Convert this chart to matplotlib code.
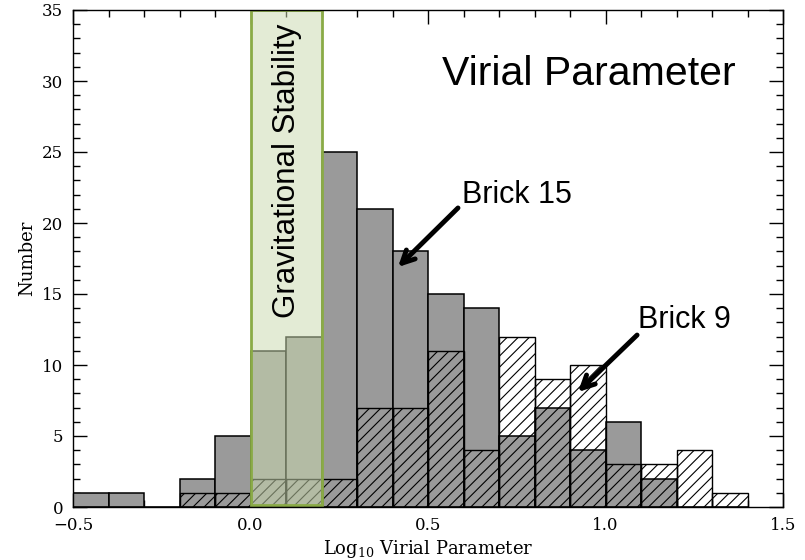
import matplotlib
matplotlib.use("Agg")
import matplotlib.pyplot as plt
from matplotlib.patches import Rectangle
from matplotlib.ticker import MultipleLocator

# Bin left edges (width 0.1)
bin_left = [-0.5, -0.4, -0.3, -0.2, -0.1, 0.0, 0.1, 0.2, 0.3, 0.4,
            0.5, 0.6, 0.7, 0.8, 0.9, 1.0, 1.1, 1.2, 1.3]
bin_width = 0.1
brick15 = [1, 1, 0, 2, 5, 11, 12, 25, 21, 18, 15, 14, 5, 7, 4, 6, 2, 0, 0]
brick9 = [0, 0, 0, 1, 1, 2, 2, 2, 7, 7, 11, 4, 12, 9, 10, 3, 3, 4, 1]
stability_range = (0.0, 0.2)

xticks = [-0.5, 0.0, 0.5, 1.0, 1.5]
yticks = [0, 5, 10, 15, 20, 25, 30, 35]

plt.rcParams['hatch.linewidth'] = 0.8
fig = plt.figure(figsize=(8.05, 5.6), dpi=100)
ax = fig.add_axes([73/805, 1-507/560, (783-73)/805, (507-10)/560])

ax.bar(bin_left, brick15, width=bin_width, align='edge',
       color='#9a9a9a', edgecolor='black', linewidth=1.1, zorder=2)
ax.bar(bin_left, brick9, width=bin_width, align='edge',
       fill=False, hatch='///', edgecolor='black', linewidth=1.0, zorder=3)

rect = Rectangle((stability_range[0], 0.15), stability_range[1]-stability_range[0], 34.85,
                 facecolor=(203/255, 218/255, 175/255, 0.52),
                 edgecolor='#8aab46', linewidth=2.0, zorder=4)
ax.add_patch(rect)

serif = 'DejaVu Serif'
ax.set_xlim(-0.5, 1.5)
ax.set_ylim(0, 35)
ax.set_xticks(xticks)
ax.set_yticks(yticks)
ax.xaxis.set_minor_locator(MultipleLocator(0.1))
ax.yaxis.set_minor_locator(MultipleLocator(1))
ax.tick_params(which='both', direction='in', top=True, right=True)
ax.tick_params(which='major', length=10, width=1)
ax.tick_params(which='minor', length=5, width=1)
ax.set_xticklabels(['\u22120.5', '0.0', '0.5', '1.0', '1.5'],
                   family=serif, fontsize=12)
ax.set_yticklabels([str(v) for v in yticks], family=serif, fontsize=12)
ax.tick_params(axis='x', pad=7)
ax.tick_params(axis='y', pad=7)
for s in ax.spines.values():
    s.set_linewidth(1.0)
    s.set_zorder(6)

ax.set_xlabel(r'Log$_{10}$ Virial Parameter', family=serif, fontsize=13,
              labelpad=3)
ax.xaxis.label.set_math_fontfamily('dejavuserif')
ax.set_ylabel('Number', family=serif, fontsize=13, labelpad=4)

ax.text(0.539, 29.7, 'Virial Parameter', family='Liberation Sans', fontsize=29.5,
        ha='left', va='baseline', zorder=7)
ax.text(0.103, 23.7, 'Gravitational Stability', family='Liberation Sans', fontsize=22.5,
        rotation=90, ha='center', va='center', zorder=7)

arrow = dict(arrowstyle='->,head_length=0.9,head_width=0.45', lw=3.5, color='black',
             shrinkA=0, shrinkB=0)
ax.annotate('', xy=(0.4155, 16.9), xytext=(0.5845, 21.06), arrowprops=arrow, zorder=7)
ax.text(0.596, 21.4, 'Brick 15', family='Liberation Sans', fontsize=22,
        ha='left', va='baseline', zorder=7)
ax.annotate('', xy=(0.9225, 8.1), xytext=(1.089, 12.11), arrowprops=arrow, zorder=7)
ax.text(1.0915, 12.6, 'Brick 9', family='Liberation Sans', fontsize=22,
        ha='left', va='baseline', zorder=7)

fig.savefig('out.png', dpi=100)
